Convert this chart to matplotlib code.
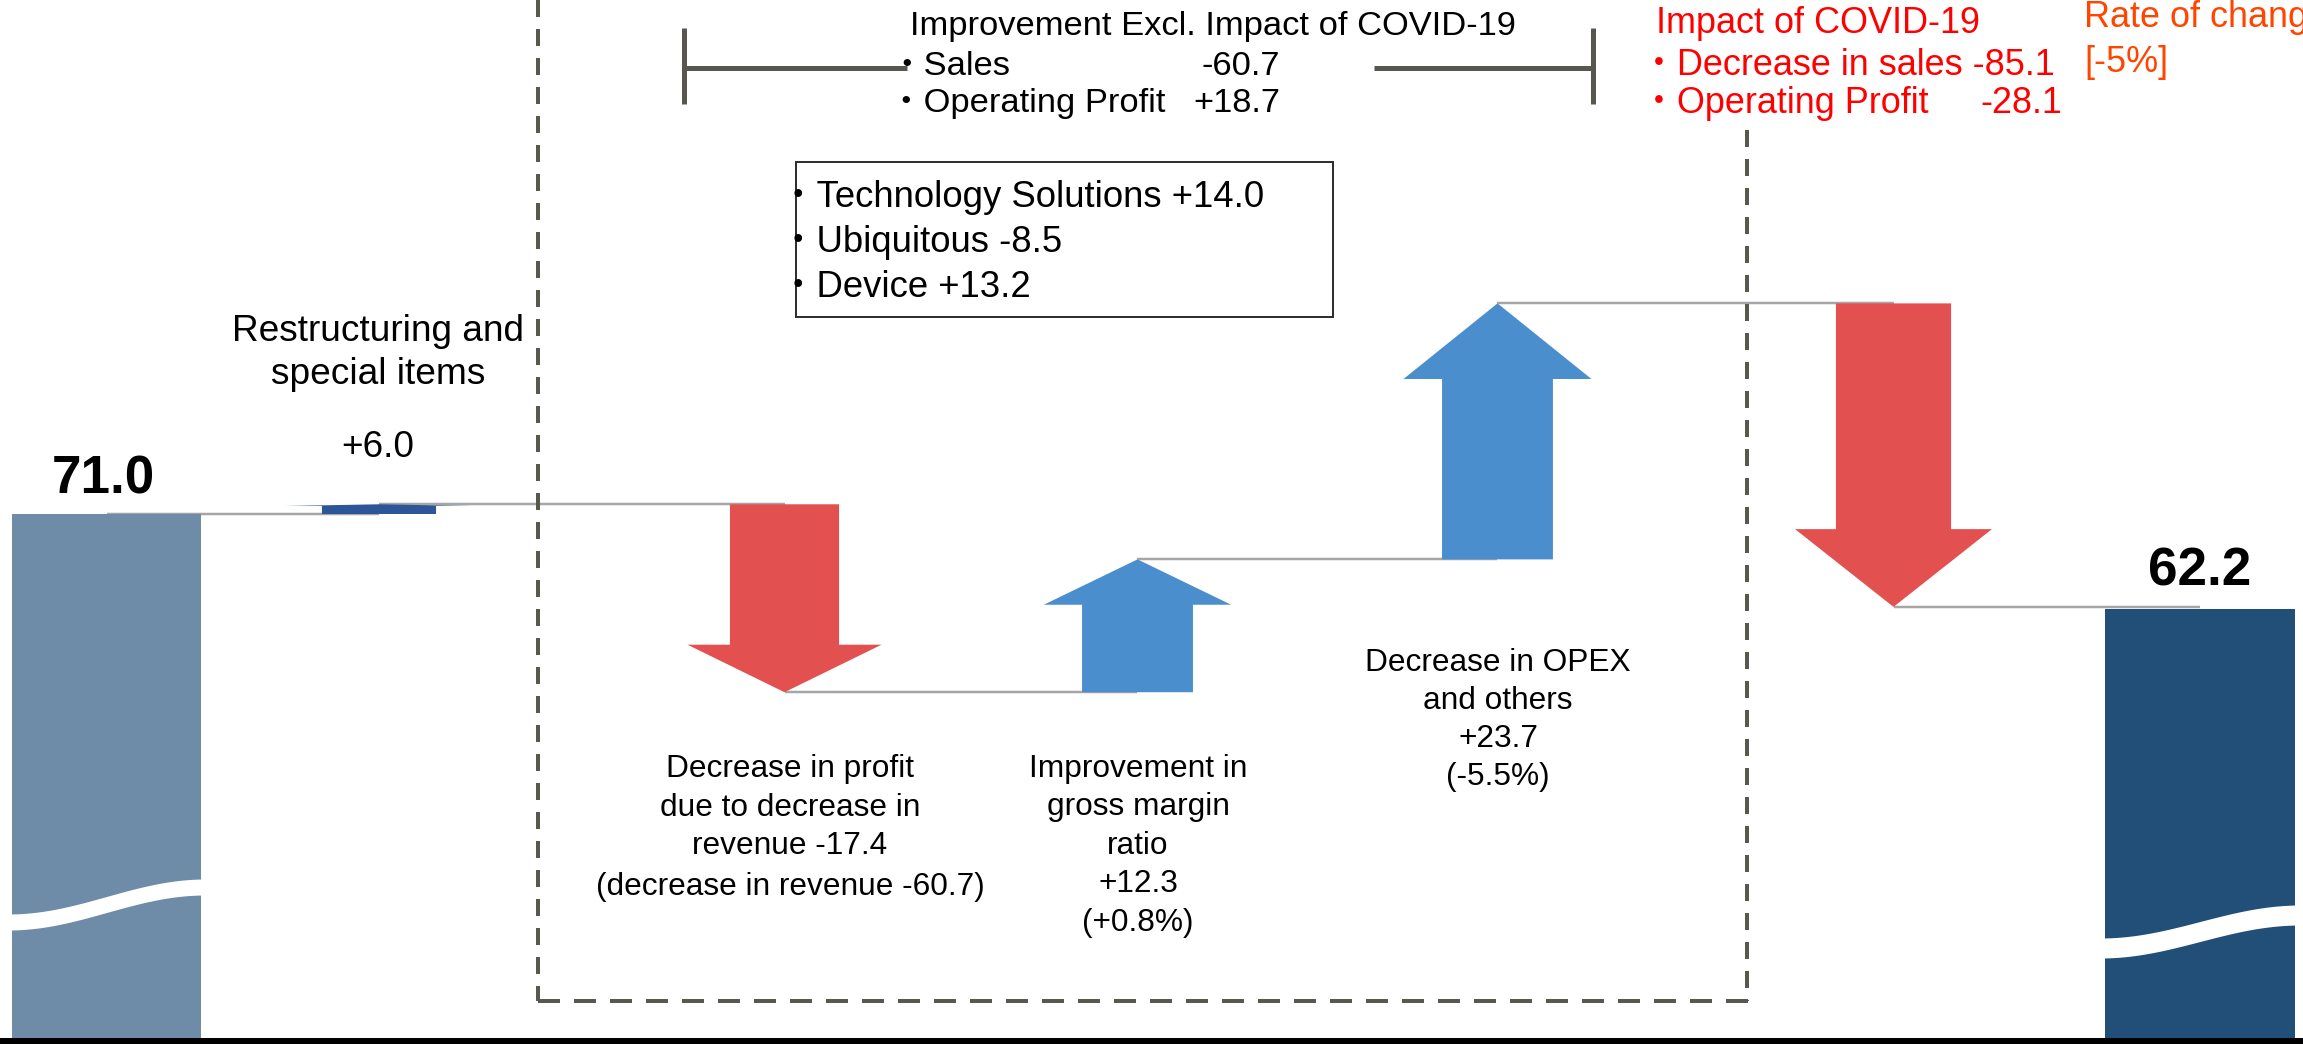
import numpy as np
import matplotlib
matplotlib.use("Agg")
import matplotlib.pyplot as plt
from matplotlib.patches import Rectangle

plt.rcParams['font.family'] = ['Liberation Sans', 'Noto Sans CJK JP', 'DejaVu Sans']

# ---------------- data ----------------
start_name = "Previous year operating profit"
start_value = 71.0
end_name = "Current year operating profit"
end_value = 62.2

step_names = ["Restructuring and special items",
              "Decrease in profit due to decrease in revenue",
              "Improvement in gross margin ratio",
              "Decrease in OPEX and others",
              "Impact of COVID-19"]
step_values = [6.0, -17.4, 12.3, 23.7, -28.1]
# heights as drawn in the picture (restructuring item is not drawn to scale)
step_drawn = [0.9, -17.4, 12.3, 23.7, -28.1]

revenue_decrease = -60.7
gm_rate_change = 0.8
opex_rate_change = -5.5

excl_sales = -60.7
excl_op = 18.7
segments = ["Technology Solutions", "Ubiquitous", "Device"]
segment_values = [14.0, -8.5, 13.2]

covid_sales = -85.1
covid_op = -28.1
covid_rate = -5

# ---------------- layout / style ----------------
W, H = 2303, 1044
x_pos = [0.2997, 1.0664, 2.2074, 3.2006, 4.2135, 5.3278, 6.1902]
bar_w = [0.532, 0.535]
shaft_w = [0.321, 0.307, 0.312, 0.312, 0.324]
head_w = [0.53, 0.546, 0.527, 0.529, 0.554]
head_len = [0.16, 4.4, 4.2, 7.0, 7.2]

C_START = '#6E8CA8'
C_END = '#214F78'
C_RESTR = '#2E5597'
C_UP = '#4A8ECD'
C_DOWN = '#E35050'
C_CONN = '#A6A6A6'
C_DASH = '#58584F'
PT = 0.72  # points per pixel at dpi 100

fig = plt.figure(figsize=(W / 100, H / 100), dpi=100)
ax = fig.add_axes([0, 0, 1, 1])
ax.set_xlim(0, 6.48)
ax.set_ylim(21.93, 118.59)
for s in ['top', 'left', 'right']:
    ax.spines[s].set_visible(False)
ax.spines['bottom'].set_color('black')
ax.spines['bottom'].set_linewidth(12 * PT)
ax.tick_params(length=0, labelbottom=False, labelleft=False)

# levels of the waterfall
levels = [start_value]
for d in step_drawn:
    levels.append(levels[-1] + d)

# bars
ax.bar(x_pos[0], start_value, width=bar_w[0], color=C_START, zorder=1)
ax.bar(x_pos[-1], end_value, width=bar_w[1], color=C_END, zorder=1)

# arrows
for i, d in enumerate(step_drawn):
    col = C_RESTR if i == 0 else (C_UP if d > 0 else C_DOWN)
    ax.arrow(x_pos[i + 1], levels[i], 0, d, width=shaft_w[i], head_width=head_w[i],
             head_length=head_len[i], length_includes_head=True,
             facecolor=col, edgecolor='none', linewidth=0, zorder=2)

# connectors
for i in range(len(levels)):
    ax.plot([x_pos[i], x_pos[i + 1]], [levels[i], levels[i]], color=C_CONN,
            lw=2.5 * PT, zorder=0.5, solid_capstyle='butt')

# big value labels
ax.annotate(f"{start_value:.1f}", xy=(x_pos[0], start_value), xytext=(-3, 21),
            textcoords='offset pixels', ha='center', va='baseline',
            fontsize=53 * PT, fontweight='bold')
ax.annotate(f"{end_value:.1f}", xy=(x_pos[-1], end_value), xytext=(0, 24),
            textcoords='offset pixels', ha='center', va='baseline',
            fontsize=53 * PT, fontweight='bold')

# ---------------- overlay in pixel coordinates ----------------
ov = fig.add_axes([0, 0, 1, 1], zorder=3)
ov.set_xlim(0, W)
ov.set_ylim(H, 0)
ov.axis('off')


def wave(x0, x1, yl, yr, thick):
    xs = np.linspace(x0, x1, 200)
    t = (xs - x0) / (x1 - x0)
    yc = yl + (yr - yl) * (1 - np.cos(np.pi * t)) / 2
    ov.fill_between(xs, yc - thick / 2, yc + thick / 2, color='white', lw=0, zorder=5)


wave(8, 205, 922, 887, 16)
wave(2100, 2300, 948, 915, 20)


def txt(x, y, s, px, ha='left', color='black', weight='normal'):
    ov.text(x, y, s, fontsize=px * PT, ha=ha, va='baseline', color=color,
            fontweight=weight, zorder=6)


# dashed frame
ov.plot([538, 538], [0, 1001], color=C_DASH, lw=4 * PT, dashes=(4.25, 3))
ov.plot([1747, 1747], [130, 1001], color=C_DASH, lw=4 * PT, dashes=(4.25, 3))
ov.plot([538, 1749], [1001, 1001], color=C_DASH, lw=4 * PT, dashes=(5.5, 3.5))

# bracket
BR = '#575750'
ov.plot([684, 684], [28, 104], color=BR, lw=5 * PT, solid_capstyle='butt')
ov.plot([684, 907], [68, 68], color=BR, lw=5 * PT, solid_capstyle='butt')
ov.plot([1374, 1593], [68, 68], color=BR, lw=5 * PT, solid_capstyle='butt')
ov.plot([1593, 1593], [28, 104], color=BR, lw=5 * PT, solid_capstyle='butt')

txt(910, 35, "Improvement Excl. Impact of COVID-19", 34.5)
txt(889, 75, "・Sales", 34.5)
txt(1280, 75, f"{excl_sales:.1f}", 34.5, ha='right')
txt(889, 112, "・Operating Profit", 34.5)
txt(1280, 112, f"{excl_op:+.1f}", 34.5, ha='right')

# segment box
ov.add_patch(Rectangle((796, 162), 537, 155, fill=False, edgecolor='#303030',
                       lw=2 * PT, zorder=6))
for k, (sn, sv) in enumerate(zip(segments, segment_values)):
    txt(780, 207 + 45 * k, f"・{sn} {sv:+.1f}", 36.5)

# COVID impact (red)
RED = '#FF0000'
txt(1656, 33, "Impact of COVID-19", 36, color=RED)
txt(1641, 75, f"・Decrease in sales {covid_sales:.1f}", 36, color=RED)
txt(1641, 113, "・Operating Profit", 36, color=RED)
txt(2062, 113, f"{covid_op:.1f}", 36, ha='right', color=RED)
ORG = '#FF4500'
txt(2084, 27, "Rate of change", 36, color=ORG)
txt(2084, 72, f"[{covid_rate}%]", 36, color=ORG)

# restructuring label
txt(378, 341, "Restructuring and", 37, ha='center')
txt(378, 384, "special items", 37, ha='center')
txt(378, 457, f"{step_values[0]:+.1f}", 37, ha='center')

# arrow labels
LP = 31.6
for k, s in enumerate(["Decrease in profit", "due to decrease in",
                       f"revenue {step_values[1]:+.1f}"]):
    txt(790, 777 + 38.5 * k, s, LP, ha='center')
txt(790, 895, f"(decrease in revenue {revenue_decrease:.1f})", LP, ha='center')

for k, s in enumerate(["Improvement in", "gross margin", "ratio",
                       f"{step_values[2]:+.1f}", f"({gm_rate_change:+.1f}%)"]):
    txt(1138, 777 + 38.5 * k, s, LP, ha='center')

for k, s in enumerate(["Decrease in OPEX", "and others",
                       f"{step_values[3]:+.1f}", f"({opex_rate_change:+.1f}%)"]):
    txt(1498, 671 + 38 * k, s, LP, ha='center')

fig.savefig("out.png", dpi=100)
